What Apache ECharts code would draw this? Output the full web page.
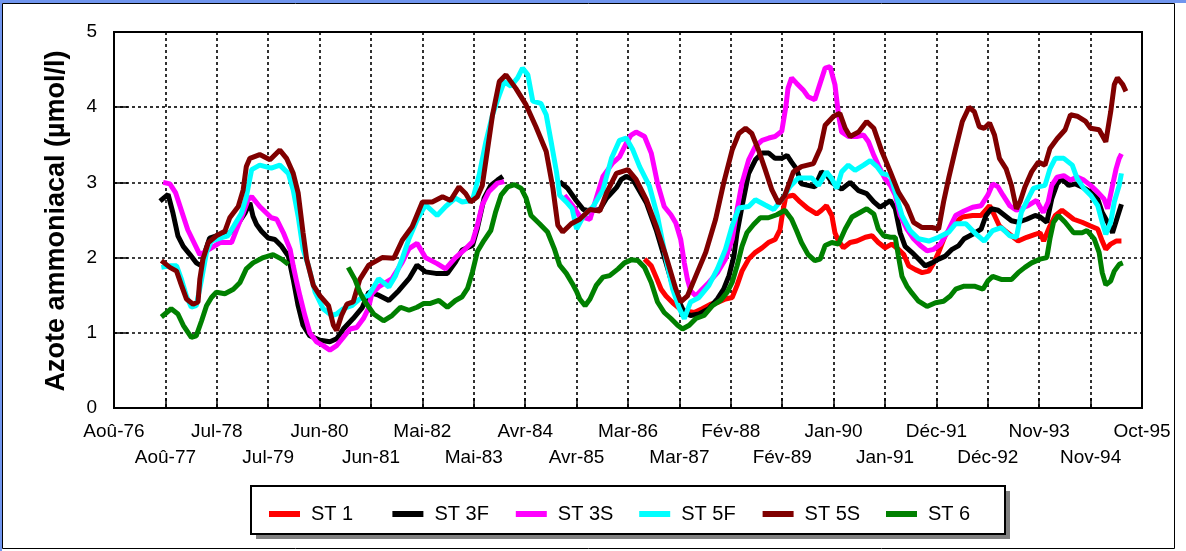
<!DOCTYPE html>
<html>
<head>
<meta charset="utf-8">
<script src="https://cdn.jsdelivr.net/npm/echarts@6/dist/echarts.min.js"></script>
<style>
html, body { margin: 0; padding: 0; background: #fff; }
#chart { width: 1186px; height: 551px; }
</style>
</head>
<body>
<div id="chart"></div>
<script>
// x = months since Aug 1976, one axis step = 11.5 months
const dateLabels = ['Aoû-76','Aoû-77','Jul-78','Jul-79','Jun-80','Jun-81','Mai-82','Mai-83','Avr-84','Avr-85',
    'Mar-86','Mar-87','Fév-88','Fév-89','Jan-90','Jan-91','Déc-91','Déc-92','Nov-93','Nov-94','Oct-95'];
const seriesNames = ['ST 1', 'ST 3F', 'ST 3S', 'ST 5F', 'ST 5S', 'ST 6'];
const seriesColors = ['#ff0000', '#000000', '#ff00ff', '#00ffff', '#800000', '#008000'];

const st1 = [[118.7,1.98],[120.2,1.89],[121.3,1.74],[122.4,1.58],[123.5,1.49],[125,1.4],[127,1.3],[129.8,1.27],[131.6,1.32],
    [133.5,1.38],[135.3,1.41],[136.8,1.45],[138.3,1.47],[139.4,1.63],[140.5,1.82],[142,1.98],[143.5,2.07],[145,2.13],[146.4,2.2],
    [147.9,2.24],[149,2.37],[149.6,2.6],[150.3,2.81],[152,2.83],[153.5,2.74],[155.3,2.65],[157.2,2.58],[158.3,2.63],[159.4,2.69],
    [160.6,2.56],[161.3,2.33],[162.1,2.22],[163.2,2.13],[164.7,2.2],[166.2,2.22],[168.1,2.27],[169.6,2.29],[171,2.2],[172.5,2.13],
    [174,2.18],[175.5,2.11],[176.7,2.04],[177.8,1.89],[179.3,1.84],[180.8,1.8],[182.3,1.82],[183.4,1.93],[184.5,2.07],[186,2.3],
    [188.3,2.47],[189.8,2.54],[192.1,2.56],[194,2.56],[195.9,2.69],[197,2.56],[198.1,2.42],[199.3,2.36],[200.8,2.29],[202.3,2.22],
    [204.2,2.27],[206.1,2.31],[207.2,2.33],[208,2.22],[209.4,2.42],[210.6,2.56],[212.1,2.63],[213.2,2.58],[214.7,2.51],[216.6,2.47],
    [218.5,2.42],[220.1,2.38],[221.1,2.22],[221.9,2.11],[223,2.18],[224.2,2.22],[225.4,2.22]];

const st3f = [[10.3,2.75],[12.1,2.84],[13.2,2.59],[14.3,2.29],[15.5,2.15],[17,2.04],[18.4,1.93],[19.6,1.89],[20.5,2.1],[21.4,2.26],
    [22.9,2.29],[25.2,2.29],[27.4,2.42],[29.3,2.59],[30.4,2.73],[31.1,2.55],[31.9,2.44],[33,2.35],[34.5,2.26],[36,2.24],[37.5,2.15],
    [39,2.02],[40.1,1.71],[41.2,1.36],[42.3,1.1],[43.8,0.96],[46.1,0.9],[48.3,0.88],[49.8,0.92],[51.3,1.05],[53.5,1.19],[55.5,1.33],
    [57,1.54],[59.2,1.5],[61.5,1.43],[63.7,1.56],[66,1.72],[67.8,1.9],[69.7,1.81],[72,1.79],[74.6,1.79],[76.4,1.94],[77.9,2.1],
    [80.2,2.16],[81.3,2.39],[82.8,2.79],[84.3,2.96],[85.8,3.03],[87,3.08],[94,'-'],[99.7,3.01],[101.5,2.92],[103.4,2.76],[105,2.64],
    [106.5,2.62],[108.7,2.64],[110.2,2.79],[112.4,2.93],[113.5,3.04],[114.6,3.08],[116.1,3.04],[119.1,2.73],[121.3,2.37],[123.5,1.93],
    [125,1.63],[126.5,1.41],[127.6,1.27],[129,1.23],[130.9,1.25],[133.1,1.32],[135,1.45],[136.4,1.58],[137.6,1.76],[138.7,2.02],
    [139.4,2.33],[140.5,2.68],[142,3.12],[143.5,3.3],[145,3.39],[146.5,3.39],[147.9,3.32],[149.4,3.32],[150.6,3.36],[151.6,3.27],
    [152.7,3.18],[153.8,2.98],[156.8,2.94],[158.3,3.14],[159.5,3.1],[160.6,3.0],[162.8,2.91],[164.7,3.0],[166.6,2.89],[168.4,2.85],
    [170,2.74],[171.4,2.67],[172.5,2.71],[173.7,2.76],[174.8,2.65],[175.9,2.33],[177,2.15],[178.5,2.07],[180,1.98],[181.5,1.89],
    [183,1.93],[184.5,1.98],[186,2.02],[187.5,2.11],[189,2.16],[190.2,2.25],[192.1,2.31],[194,2.38],[195.1,2.56],[196.3,2.65],
    [197.8,2.63],[199.3,2.56],[200.8,2.49],[202.3,2.47],[204.2,2.51],[206.1,2.56],[207.2,2.54],[208.7,2.47],[209.8,2.78],[211,2.98],
    [212.1,3.05],[213.6,2.96],[215.1,2.98],[216.6,2.94],[218.5,2.87],[220.1,2.78],[221.1,2.6],[222.3,2.47],[223.4,2.33],[224.5,2.54],
    [225.4,2.71]];

const st3s = [[11,3.0],[12.5,2.98],[13.8,2.86],[16.5,2.37],[19.2,2.04],[21,2.1],[23.7,2.2],[26.3,2.2],[27.4,2.37],[28.9,2.59],
    [30,2.77],[30.8,2.81],[32.6,2.68],[35.2,2.53],[36.4,2.51],[37.9,2.33],[39.4,2.11],[40.1,1.89],[40.9,1.67],[41.6,1.49],[42.7,1.23],
    [43.8,1.0],[45.3,0.88],[46.8,0.83],[48.3,0.77],[49.8,0.83],[51.3,0.94],[52.8,1.05],[54.3,1.07],[55.8,1.19],[56.9,1.32],[57.7,1.52],
    [59.2,1.61],[62.2,1.72],[64.5,1.94],[66,2.12],[67.8,2.19],[69.7,2.0],[72.3,1.92],[74.2,1.85],[76.4,2.0],[78.7,2.12],[80.2,2.21],
    [81.3,2.43],[82.4,2.7],[83.9,2.88],[85.8,2.99],[87.3,3.01],[94,'-'],[100.8,2.83],[102.5,2.7],[104.2,2.55],[106.5,2.51],[108,2.81],
    [109.4,3.08],[111.6,3.26],[113.1,3.34],[114.6,3.52],[115.7,3.63],[116.8,3.67],[118.7,3.61],[120.2,3.39],[121.6,2.99],[123.1,2.68],
    [124.6,2.57],[125.7,2.46],[126.8,2.24],[127.6,1.93],[128.3,1.71],[129,1.56],[130.2,1.49],[131.6,1.58],[133.1,1.67],[135,1.8],
    [136.8,1.98],[138.3,2.24],[139.4,2.64],[140.5,2.99],[142,3.3],[143.5,3.48],[145,3.56],[146.5,3.59],[147.9,3.61],[149.4,3.68],
    [150.3,4.0],[150.8,4.25],[151.6,4.39],[152.7,4.32],[154.2,4.23],[155.3,4.14],[156.8,4.1],[158,4.32],[159.1,4.52],[160.2,4.54],
    [161.3,4.3],[162.1,3.9],[162.8,3.67],[164.3,3.61],[166.2,3.61],[167.7,3.63],[168.8,3.54],[170,3.36],[171,3.23],[172.5,3.05],
    [173.7,2.96],[174.8,2.83],[175.9,2.56],[177.4,2.38],[178.9,2.25],[180.4,2.16],[181.9,2.09],[183.4,2.11],[184.9,2.18],[186.4,2.33],
    [188.3,2.56],[190.2,2.62],[192.1,2.67],[194,2.69],[195.5,2.83],[196.6,2.98],[197.8,2.94],[198.9,2.83],[200.4,2.69],[201.9,2.63],
    [204.5,2.69],[206.4,2.76],[207.9,2.6],[209,2.74],[209.8,2.96],[211,3.07],[212.5,3.09],[214,3.03],[215.5,3.07],[217,3.03],
    [218.5,2.96],[220.1,2.87],[221.5,2.78],[222.3,2.65],[223.4,2.96],[224.2,3.18],[224.9,3.32],[225.4,3.38]];

const st5f = [[10.6,1.87],[12.5,1.89],[14,1.89],[15.1,1.71],[16.2,1.49],[17.3,1.34],[18.4,1.36],[19.6,1.71],[20.7,2.07],[21.8,2.22],
    [23.7,2.26],[25.5,2.29],[27,2.44],[28.5,2.59],[29.6,2.81],[30.8,3.17],[32.6,3.23],[35.2,3.19],[37.1,3.23],[39,3.12],[40.1,2.9],
    [41.2,2.55],[42.3,2.11],[43.5,1.89],[45,1.54],[46.8,1.32],[48.7,1.23],[49.8,1.25],[51.3,1.32],[53.2,1.36],[55,1.45],[57,1.5],
    [59.2,1.72],[61.5,1.61],[63,1.76],[64.5,1.99],[66,2.25],[67.8,2.5],[69.7,2.7],[72.3,2.56],[74.2,2.68],[76.4,2.79],[77.9,2.74],
    [80.2,2.76],[81.7,3.1],[83.2,3.54],[84.7,3.9],[86.2,4.16],[87.3,4.34],[88.8,4.28],[90.3,4.39],[91.4,4.52],[92.6,4.43],[93.7,4.08],
    [95.5,4.05],[96.7,3.9],[97.8,3.54],[99,3.14],[99.7,2.83],[101.2,2.74],[102.5,2.65],[103.5,2.38],[105,2.55],[107.2,2.68],[109.4,2.9],
    [111.3,3.32],[113.1,3.56],[114.6,3.59],[116.1,3.43],[117.6,3.21],[119.8,2.95],[121.6,2.55],[123.5,1.98],[125,1.58],[126.5,1.32],
    [127.6,1.19],[129,1.41],[130.9,1.47],[133.1,1.63],[135,1.85],[136.8,2.11],[138.3,2.42],[139.8,2.66],[142,2.68],[143.5,2.77],
    [145.7,2.7],[147.6,2.64],[149.4,2.77],[151.3,2.95],[153.1,3.06],[156.1,3.06],[157.6,2.96],[159.4,3.14],[160.6,3.05],[161.7,2.92],
    [162.8,3.14],[164.3,3.23],[165.8,3.16],[167.7,3.23],[169.2,3.29],[170.7,3.21],[171.8,3.12],[173.7,3.09],[174.8,2.87],[176.3,2.56],
    [178.1,2.36],[180,2.25],[182.3,2.22],[184.5,2.27],[186.8,2.34],[188.3,2.45],[190.6,2.45],[192.9,2.31],[194.7,2.22],[196.6,2.36],
    [198.5,2.4],[200.4,2.29],[201.9,2.27],[203,2.6],[204.5,2.78],[205.7,2.92],[206.8,2.94],[208.3,2.96],[209.4,3.18],[210.6,3.32],
    [212.5,3.32],[214.4,3.23],[215.5,3.05],[217,2.92],[218.5,2.83],[220.1,2.69],[221.1,2.47],[221.9,2.31],[223,2.47],[223.8,2.74],
    [224.9,2.96],[225.4,3.12]];

const st5s = [[10.6,1.96],[12.5,1.87],[14,1.82],[15.1,1.63],[16.2,1.45],[17.7,1.38],[18.8,1.41],[19.2,1.71],[19.9,1.98],[21.1,2.2],
    [22.9,2.29],[24.8,2.35],[25.9,2.53],[27.8,2.68],[28.9,2.9],[29.6,3.21],[30.4,3.32],[32.6,3.37],[34.9,3.3],[37.1,3.43],[38.6,3.32],
    [40.1,3.12],[41.2,2.86],[42.3,2.33],[43.1,1.98],[44.6,1.63],[46.1,1.49],[48,1.36],[49.1,1.1],[49.8,1.03],[50.9,1.23],[52.1,1.38],
    [53.5,1.41],[55,1.71],[57,1.9],[60,2.0],[62.6,1.99],[64.5,2.23],[66.7,2.41],[69,2.74],[71.2,2.74],[73.5,2.81],[75.3,2.76],
    [77.2,2.94],[78.7,2.85],[79.8,2.74],[81.3,2.81],[82.4,2.96],[83.6,3.45],[84.7,3.9],[86.2,4.34],[87.7,4.43],[89.9,4.25],[92.2,4.03],
    [94.4,3.74],[96.7,3.41],[98.2,2.92],[99.3,2.43],[100.4,2.34],[102.3,2.45],[104.2,2.51],[106.5,2.64],[108.7,2.62],[110.2,2.86],
    [112.4,3.12],[115,3.17],[116.8,3.04],[119.1,2.77],[121.3,2.42],[123.5,2.02],[125.7,1.58],[126.8,1.41],[128.3,1.49],[130.2,1.76],
    [132.4,2.07],[134.6,2.51],[136.4,2.99],[138.3,3.43],[139.8,3.65],[141.3,3.72],[142.7,3.65],[144.2,3.43],[145.7,3.17],[147.2,2.9],
    [148.7,2.72],[150.1,2.83],[152,3.14],[153.8,3.21],[156.5,3.25],[158,3.45],[159.1,3.76],[161,3.88],[162.4,3.92],[163.6,3.72],
    [164.7,3.61],[166.6,3.67],[168.4,3.81],[170,3.72],[171.8,3.41],[173.7,3.14],[175.5,2.87],[177.4,2.69],[178.9,2.47],[180.8,2.4],
    [183,2.4],[184.5,2.38],[185.6,2.74],[186.8,3.07],[188.3,3.45],[189.8,3.81],[191.3,4.0],[192.5,3.94],[193.6,3.74],[194.7,3.72],
    [195.9,3.79],[197,3.63],[198.1,3.32],[199.6,3.18],[200.8,2.96],[201.9,2.65],[202.7,2.74],[203.8,2.94],[205.3,3.14],[206.8,3.27],
    [208.3,3.23],[209.4,3.45],[211,3.58],[212.8,3.7],[214,3.9],[215.5,3.88],[217.4,3.81],[218.5,3.72],[220.4,3.7],[221.9,3.54],
    [223,3.94],[223.8,4.3],[224.5,4.39],[225.7,4.3],[226.4,4.21]];

const st6 = [[10.6,1.21],[12.8,1.32],[14.3,1.25],[15.5,1.1],[17.3,0.94],[18.4,0.96],[19.6,1.16],[20.7,1.36],[21.8,1.47],[22.9,1.54],
    [24.8,1.52],[26.7,1.58],[28.2,1.67],[29.6,1.85],[31.1,1.93],[33.4,2.0],[35.6,2.04],[37.5,1.98],[39,1.91],[45,'-'],[52.4,1.87],
    [53.9,1.71],[55,1.54],[56.2,1.41],[58.1,1.25],[60.3,1.16],[62.2,1.23],[64.1,1.34],[66,1.3],[67.8,1.34],[69.3,1.39],[70.8,1.39],
    [72.7,1.43],[74.6,1.34],[76.4,1.43],[77.9,1.48],[79.1,1.59],[80.2,1.81],[81.3,2.08],[82.8,2.23],[84.3,2.36],[85.4,2.61],[86.6,2.83],
    [88.1,2.94],[89.6,2.97],[91.1,2.92],[92.2,2.79],[93.3,2.56],[95.2,2.45],[97,2.34],[98.5,2.12],[99.7,1.9],[101.2,1.79],[102.5,1.66],
    [103.5,1.55],[104.2,1.45],[105.4,1.36],[106.5,1.45],[107.9,1.63],[109.4,1.74],[110.9,1.76],[112.8,1.85],[114.2,1.93],[115.7,1.97],
    [117.2,1.96],[118.7,1.87],[120.2,1.67],[121.6,1.41],[123.1,1.27],[124.6,1.19],[126.1,1.1],[127.2,1.05],[128.7,1.1],[130.2,1.19],
    [132,1.23],[133.9,1.36],[135.7,1.43],[137.2,1.54],[138.3,1.67],[139.4,1.89],[140.5,2.15],[141.6,2.33],[143.1,2.44],[144.6,2.53],
    [146.4,2.53],[148.3,2.57],[150.1,2.63],[151.6,2.51],[152.7,2.36],[153.8,2.2],[155.3,2.04],[156.8,1.96],[158,1.98],[159.1,2.16],
    [160.6,2.2],[162.1,2.18],[163.6,2.38],[165.1,2.54],[166.9,2.6],[168.4,2.65],[170,2.58],[171,2.38],[172.2,2.29],[173.7,2.27],
    [174.8,2.27],[175.5,2.02],[176.3,1.75],[177.4,1.62],[178.5,1.53],[180,1.42],[181.9,1.35],[183.8,1.4],[185.6,1.42],[187.1,1.49],
    [188.3,1.58],[190.2,1.62],[192.5,1.62],[194.4,1.58],[195.5,1.69],[196.6,1.75],[198.5,1.71],[200.8,1.71],[202.3,1.8],[203.8,1.87],
    [205.3,1.93],[207.2,1.98],[208.7,2.0],[209.4,2.25],[210.2,2.47],[211.3,2.56],[212.8,2.47],[214.7,2.33],[216.6,2.33],[217.7,2.36],
    [219.3,2.25],[220.4,2.07],[221.1,1.8],[221.9,1.64],[223,1.69],[223.8,1.82],[224.9,1.91],[225.7,1.93]];

const seriesData = [st1, st3f, st3s, st5f, st5s, st6];

const chart = echarts.init(document.getElementById('chart'));

const dotted = {color: '#000', width: 1.6, type: [3, 3]};
const font = 'Arial, "Liberation Sans", sans-serif';

// date labels alternate between two rows: even index on top row, odd on second row
const labelRow = (row, margin) => ({
    color: '#000', fontSize: 19, fontFamily: font, margin: margin,
    showMinLabel: true, showMaxLabel: true, hideOverlap: false,
    formatter: function(v) {
        const i = Math.round(v / 11.5);
        return i % 2 === row ? dateLabels[i] : '';
    }
});

// one legend per entry so the entries sit at an even pitch, as in the original
const legends = seriesNames.map((name, i) => ({
    left: 264 + i * 123.4, top: 499,
    icon: 'rect', itemWidth: 31, itemHeight: 6,
    data: [name],
    textStyle: {color: '#000', fontSize: 20, fontFamily: font, padding: [0, 0, 0, 6]}
}));

chart.setOption({
    animation: false,
    backgroundColor: '#fff',
    textStyle: {fontFamily: font},
    grid: {
        left: 114, right: 44, top: 32, bottom: 143,
        show: true, borderColor: '#000', borderWidth: 2, backgroundColor: '#fff'
    },
    xAxis: [
        {
            type: 'value',
            min: 0, max: 230, interval: 11.5,
            axisLine: {lineStyle: {color: '#000', width: 2}},
            axisTick: {inside: true, length: 10, lineStyle: {color: '#000', width: 1.5}},
            splitLine: {show: true, lineStyle: dotted},
            axisLabel: labelRow(0, 14)
        },
        {
            type: 'value', position: 'bottom',
            min: 0, max: 230, interval: 11.5,
            axisLine: {show: false},
            axisTick: {show: false},
            splitLine: {show: false},
            axisLabel: labelRow(1, 40)
        }
    ],
    yAxis: {
        type: 'value',
        min: 0, max: 5, interval: 1,
        axisLine: {show: true, lineStyle: {color: '#000', width: 2}},
        axisTick: {show: true, inside: true, length: 14, lineStyle: {color: '#000', width: 1.5}},
        splitLine: {show: true, lineStyle: dotted},
        axisLabel: {color: '#000', fontSize: 19, fontFamily: font, margin: 17}
    },
    legend: legends,
    graphic: [
        {type: 'rect', shape: {x: 0, y: 0, width: 1186, height: 3}, style: {fill: '#7095ee'}, silent: true},
        {type: 'rect', shape: {x: 0, y: 0, width: 2, height: 551}, style: {fill: '#7095ee'}, silent: true},
        {type: 'rect', shape: {x: 2.5, y: 3.5, width: 1172, height: 545}, style: {fill: 'none', stroke: '#000', lineWidth: 1}, silent: true},
        {type: 'rect', shape: {x: 256, y: 491, width: 754, height: 48}, style: {fill: '#808080'}, silent: true},
        {type: 'rect', shape: {x: 251, y: 486, width: 754, height: 48}, style: {fill: '#fff', stroke: '#000', lineWidth: 2}, silent: true},
        {
            type: 'text', x: 57, y: 221, rotation: Math.PI / 2,
            style: {
                text: 'Azote ammoniacal (µmol/l)', fill: '#000',
                font: 'bold 27px Arial, "Liberation Sans", sans-serif',
                align: 'center', verticalAlign: 'middle'
            },
            silent: true
        }
    ],
    series: seriesData.map((d, i) => ({
        name: seriesNames[i],
        type: 'line',
        data: d,
        showSymbol: false,
        connectNulls: false,
        color: seriesColors[i],
        lineStyle: {color: seriesColors[i], width: 5},
        z: 3 + i
    }))
});
</script>
</body>
</html>
